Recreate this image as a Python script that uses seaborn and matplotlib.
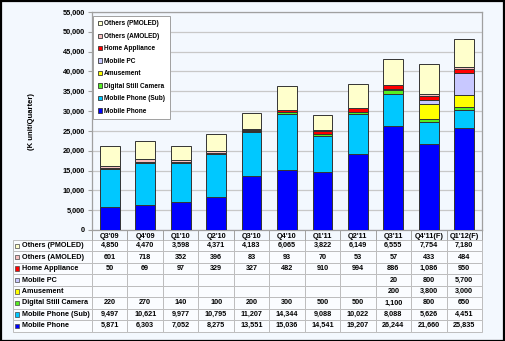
import matplotlib
matplotlib.use("Agg")
import matplotlib.pyplot as plt
import seaborn as sns
import numpy as np
import pandas as pd
from matplotlib.patches import Patch, Rectangle
from matplotlib.ticker import FuncFormatter, FixedLocator

quarters = ["Q3'09", "Q4'09", "Q1'10", "Q2'10", "Q3'10", "Q4'10",
            "Q1'11", "Q2'11", "Q3'11", "Q4'11(F)", "Q1'12(F)"]
mobile_phone = [5871, 6303, 7052, 8275, 13551, 15036, 14541, 19207, 26244, 21660, 25835]
mobile_phone_sub = [9497, 10621, 9977, 10795, 11207, 14344, 9088, 10022, 8088, 5626, 4451]
digital_camera = [220, 270, 140, 100, 200, 300, 500, 500, 1100, 800, 650]
amusement = [None] * 8 + [200, 3800, 3000]
mobile_pc = [None] * 8 + [20, 800, 5700]
home_appliance = [50, 69, 97, 329, 327, 482, 910, 994, 886, 1086, 950]
others_amoled = [601, 718, 352, 396, 83, 93, 70, 53, 57, 433, 484]
others_pmoled = [4850, 4470, 3598, 4371, 4183, 6065, 3822, 6149, 6555, 7754, 7180]

series_names = ["Mobile Phone", "Mobile Phone (Sub)", "Digital Still Camera", "Amusement",
                "Mobile PC", "Home Appliance", "Others (AMOLED)", "Others (PMOLED)"]
series_values = [mobile_phone, mobile_phone_sub, digital_camera, amusement,
                 mobile_pc, home_appliance, others_amoled, others_pmoled]
series_colors = ["#0000FF", "#00C8FF", "#55EE22", "#FFFF00",
                 "#C8C8FF", "#FF0000", "#F8C0C0", "#FFFFCC"]

plt.rcParams['font.family'] = ['Liberation Sans', 'DejaVu Sans']
plt.rcParams['font.weight'] = 'bold'

BG = "#F3F8FE"
fig = plt.figure(figsize=(5.05, 3.41), dpi=100, facecolor=BG)
ax = fig.add_axes([92 / 505, 1 - 230 / 341, 390 / 505, 218 / 341])
ax.set_facecolor(BG)

bottom = np.zeros(len(quarters))
for name, vals, col in zip(series_names, series_values, series_colors):
    v = np.array([0 if x is None else x for x in vals], dtype=float)
    df = pd.DataFrame({"quarter": quarters, "value": v})
    sns.barplot(data=df, x="quarter", y="value", bottom=bottom.copy(), color=col,
                saturation=1, edgecolor="#333333", linewidth=0.7, width=0.56,
                errorbar=None, ax=ax, zorder=3)
    bottom += v

ax.set_xlim(-0.5, len(quarters) - 0.5)
ax.set_ylim(0, 55000)
ax.yaxis.set_major_locator(FixedLocator(np.arange(0, 55001, 5000)))
ax.yaxis.set_major_formatter(FuncFormatter(lambda y, p: f"{int(y):,}"))
ax.grid(axis='y', color="#C8C8C8", linewidth=0.9, zorder=0)
ax.set_axisbelow(True)
for s in ax.spines.values():
    s.set_color("#A0A0A0")
    s.set_linewidth(0.9)
ax.tick_params(axis='y', length=3, color="#A0A0A0", labelsize=5.3, pad=2)
ax.tick_params(axis='x', which='major', length=0, labelsize=5.3, pad=2.5)
ax.set_xticks(np.arange(-0.5, len(quarters), 1.0), minor=True)
ax.tick_params(axis='x', which='minor', length=7.5, width=0.7, color="#A0A0A0")
ax.set_xlabel("")
ax.set_ylabel("(K unit/Quarter)", fontsize=5.5, fontweight='bold', labelpad=20)

handles = [Patch(facecolor=c, edgecolor="#333333", linewidth=0.6, label=n)
           for n, c in zip(series_names, series_colors)][::-1]
leg = ax.legend(handles=handles, loc='upper left', bbox_to_anchor=(0.003, 0.982),
                borderaxespad=0, prop={'size': 4.7, 'weight': 'bold'},
                handlelength=0.65, handleheight=0.65, handletextpad=0.35,
                labelspacing=0.84, borderpad=0.7, fancybox=False,
                frameon=True, edgecolor="#A0A0A0", facecolor="white", framealpha=1)
leg.get_frame().set_linewidth(0.7)

# Table
rows_order = list(range(len(series_names)))[::-1]
cell_text = []
for i in rows_order:
    row = ["    " + series_names[i]]
    for x in series_values[i]:
        row.append("" if x is None else f"{x:,}")
    cell_text.append(row)

lab_w = 79.0
col_w = 390 / len(quarters)
tbl = ax.table(cellText=cell_text,
               colWidths=[lab_w] + [col_w] * len(quarters),
               bbox=[(13 - 92) / 390, (230 - 331.5) / 218, (482 - 13) / 390, 91.5 / 218],
               cellLoc='center')
tbl.auto_set_font_size(False)
for (r, c), cell in tbl.get_celld().items():
    cell.set_fontsize(5.2)
    cell.get_text().set_fontweight('bold')
    cell.set_edgecolor("#BDBDBD")
    cell.set_linewidth(0.7)
    cell.set_facecolor("#FAFCFF")
    if c == 0:
        cell.get_text().set_ha('left')
        cell._loc = 'left'
        cell.PAD = 0.01

# row markers
nrows = len(rows_order)
top_px, bot_px = 240.0, 331.5
rh = (bot_px - top_px) / nrows
for k, i in enumerate(rows_order):
    cy = top_px + rh * (k + 0.5)
    sz = 4.4
    fig.patches.append(Rectangle(((14.5) / 505, 1 - (cy + sz / 2) / 341), sz / 505, sz / 341,
                                 transform=fig.transFigure, facecolor=series_colors[i],
                                 edgecolor="#444444", linewidth=0.5, zorder=10))

fig.patches.append(Rectangle((0.001, 0.001), 0.998, 0.997, transform=fig.transFigure,
                             fill=False, edgecolor="black", linewidth=1.6, zorder=20))

fig.savefig("out.png", dpi=100, facecolor=BG)
